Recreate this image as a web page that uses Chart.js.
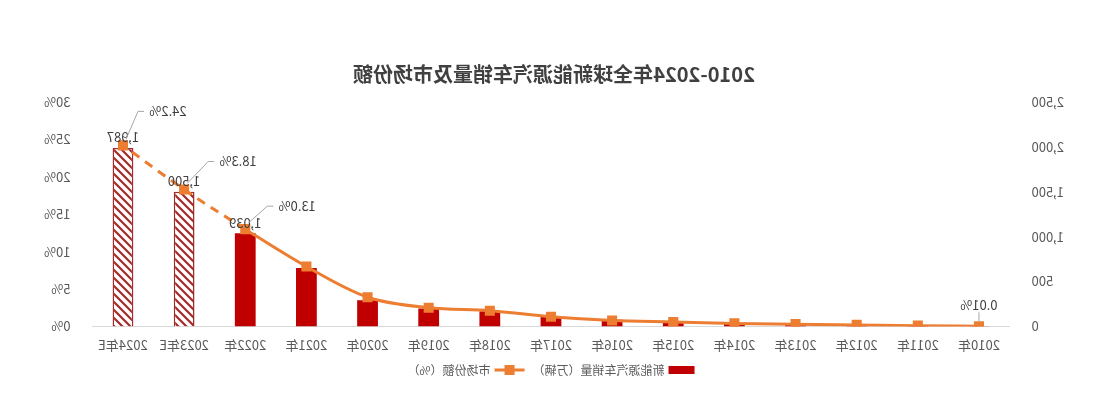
<!DOCTYPE html>
<html>
<head>
<meta charset="utf-8">
<script src="https://cdn.jsdelivr.net/npm/chart.js@4/dist/chart.umd.min.js"></script>
<style>
  body { margin: 0; background: #fff; }
  #wrap { width: 1100px; height: 416px; transform: scaleX(-1); }
</style>
</head>
<body>
<div id="wrap"><canvas id="chart" width="1100" height="416"></canvas></div>
<script>
const years = ["2010年", "2011年", "2012年", "2013年", "2014年", "2015年", "2016年", "2017年",
    "2018年", "2019年", "2020年", "2021年", "2022年", "2023年E", "2024年E"];
const sales = [1, 5, 12, 20, 32, 55, 75, 110, 170, 200, 290, 650, 1039, 1500, 1987];
const share = [0.01, 0.1, 0.2, 0.3, 0.4, 0.6, 0.8, 1.3, 2.1, 2.5, 3.9, 8.0, 13.0, 18.3, 24.2];
const salesTicks = [0, 500, 1000, 1500, 2000, 2500];
const shareLabels = { 0: [0, 0], 12: [-52, -23], 13: [-54, -28], 14: [-45, -34] };
const salesLabels = [12, 13, 14];

const FONT = "'Noto Sans CJK SC', 'Noto Sans', sans-serif";
const RED = '#C00000';
const ORANGE = '#ED7D31';
const GREY = '#595959';

function hatch() {
    const p = document.createElement('canvas');
    p.width = 8; p.height = 8;
    const c = p.getContext('2d');
    c.fillStyle = '#fff';
    c.fillRect(0, 0, 8, 8);
    c.strokeStyle = '#A52A2A';
    c.lineWidth = 2.2;
    c.beginPath();
    c.moveTo(0, 8); c.lineTo(8, 0);
    c.moveTo(-2, 2); c.lineTo(2, -2);
    c.moveTo(6, 10); c.lineTo(10, 6);
    c.stroke();
    return document.getElementById('chart').getContext('2d').createPattern(p, 'repeat');
}
const pattern = hatch();

function pct(v) {
    return (v < 0.1 ? String(v) : v.toFixed(1)) + '%';
}

const labelPlugin = {
    id: 'labels',
    afterDatasetsDraw(chart) {
        const ctx = chart.ctx;
        ctx.save();
        ctx.font = `13px ${FONT}`;
        ctx.fillStyle = '#404040';
        ctx.textAlign = 'center';
        ctx.textBaseline = 'bottom';
        const bars = chart.getDatasetMeta(0).data;
        salesLabels.forEach(i => {
            ctx.fillText(sales[i].toLocaleString('en-US'), bars[i].x, bars[i].y - 4);
        });
        const pts = chart.getDatasetMeta(1).data;
        ctx.strokeStyle = '#A6A6A6';
        ctx.lineWidth = 1;
        Object.keys(shareLabels).forEach(k => {
            const i = Number(k);
            const [dx, dy] = shareLabels[k];
            const p = pts[i];
            const text = pct(share[i]);
            ctx.beginPath();
            if (i === 0) {
                ctx.moveTo(p.x, p.y - 4);
                ctx.lineTo(p.x, p.y - 14);
                ctx.stroke();
                ctx.fillText(text, p.x, p.y - 15);
            } else {
                ctx.moveTo(p.x - 3, p.y - 6);
                ctx.lineTo(p.x + dx + 30, p.y + dy);
                ctx.lineTo(p.x + dx + 24, p.y + dy);
                ctx.stroke();
                ctx.textBaseline = 'middle';
                ctx.fillText(text, p.x + dx, p.y + dy);
                ctx.textBaseline = 'bottom';
            }
        });
        // legend
        const ly = 370;
        const cx = 550;
        ctx.font = `12px ${FONT}`;
        ctx.fillStyle = GREY;
        ctx.textAlign = 'left';
        ctx.textBaseline = 'middle';
        const t1 = '新能源汽车销量（万辆）';
        const t2 = '市场份额（%）';
        const w1 = ctx.measureText(t1).width;
        const w2 = ctx.measureText(t2).width;
        const total = 28 + 4 + w1 + 8 + 30 + 4 + w2;
        let x = cx - total / 2;
        ctx.fillStyle = RED;
        ctx.fillRect(x, ly - 4, 26, 8);
        x += 30;
        ctx.fillStyle = GREY;
        ctx.fillText(t1, x, ly);
        x += w1 + 8;
        ctx.strokeStyle = ORANGE;
        ctx.lineWidth = 3;
        ctx.beginPath();
        ctx.moveTo(x, ly); ctx.lineTo(x + 30, ly);
        ctx.stroke();
        ctx.fillStyle = ORANGE;
        ctx.fillRect(x + 10, ly - 5, 10, 10);
        x += 34;
        ctx.fillStyle = GREY;
        ctx.fillText(t2, x, ly);
        ctx.restore();
    }
};

Chart.defaults.font.family = FONT;
Chart.defaults.color = GREY;

new Chart(document.getElementById('chart'), {
    type: 'bar',
    data: {
        labels: years,
        datasets: [
            {
                label: '新能源汽车销量（万辆）',
                data: sales,
                yAxisID: 'y',
                order: 2,
                backgroundColor: years.map((y, i) => i >= 13 ? pattern : RED),
                borderColor: years.map((y, i) => i >= 13 ? '#A52A2A' : RED),
                borderWidth: years.map((y, i) => i >= 13 ? 1.5 : 0),
                categoryPercentage: 1,
                barPercentage: 0.34
            },
            {
                type: 'line',
                label: '市场份额（%）',
                data: share,
                yAxisID: 'y1',
                order: 1,
                borderColor: ORANGE,
                backgroundColor: ORANGE,
                borderWidth: 3,
                tension: 0.4,
                cubicInterpolationMode: 'monotone',
                pointStyle: 'rect',
                pointRadius: 5,
                pointHoverRadius: 5,
                segment: {
                    borderDash: ctx => ctx.p0DataIndex >= 12 ? [9, 7] : undefined
                }
            }
        ]
    },
    options: {
        responsive: false,
        animation: false,
        layout: { padding: { top: 20, left: 22, right: 30, bottom: 60 } },
        plugins: {
            legend: { display: false },
            tooltip: { enabled: false },
            title: {
                display: true,
                text: '2010-2024年全球新能源汽车销量及市场份额',
                color: '#404040',
                font: { size: 20, weight: 'bold' },
                padding: { top: 42, bottom: 16 }
            }
        },
        scales: {
            x: {
                grid: { display: false },
                border: { color: '#D9D9D9' },
                ticks: { font: { size: 13 }, maxRotation: 0 }
            },
            y: {
                position: 'left',
                min: 0, max: 2500,
                afterBuildTicks: axis => { axis.ticks = salesTicks.map(v => ({ value: v })); },
                grid: { display: false },
                border: { display: false },
                ticks: {
                    font: { size: 13 },
                    padding: 14,
                    callback: v => v.toLocaleString('en-US')
                }
            },
            y1: {
                position: 'right',
                min: 0, max: 30,
                grid: { display: false },
                border: { display: false },
                ticks: { stepSize: 5, font: { size: 13 }, padding: 14, callback: v => v + '%' }
            }
        }
    },
    plugins: [labelPlugin]
});
</script>
</body>
</html>
